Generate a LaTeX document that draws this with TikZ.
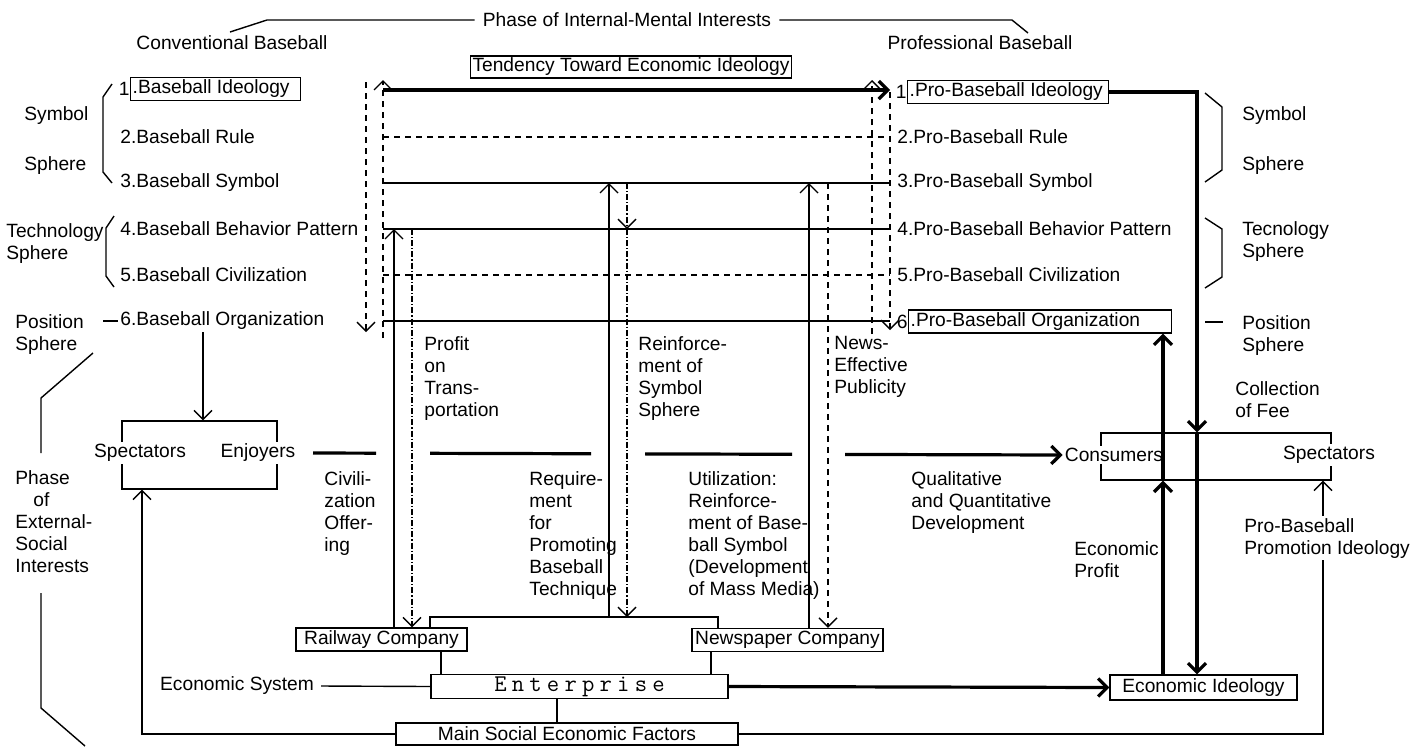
\documentclass[tikz,border=0pt]{standalone}
\usepackage{fontspec}
\setmainfont{Liberation Sans}
\usetikzlibrary{arrows.meta, calc}
\makeatletter
\newcommand\spreadword[1]{\@tfor\sw@ch:=#1\do{\sw@ch\kern2.6pt}\unkern}
\makeatother
\tikzset{
  lbl/.style={font=\fontsize{9.6}{11}\selectfont, inner sep=1pt},
  tlbl/.style={lbl, anchor=north west, align=left},
  fbox/.style={rectangle, draw, line width=0.7pt, inner sep=1pt,
               font=\fontsize{9.6}{11}\selectfont},
  itembox/.style={fbox, anchor=west, minimum height=11.5pt},
  gbox/.style={rectangle, draw, line width=0.7pt, inner sep=0pt},
  entfont/.style={font=\ttfamily\fontsize{12}{12}\selectfont},
  ln/.style={line width=0.7pt},
  thk/.style={line width=1.6pt},
  dsh/.style={line width=0.7pt, dash pattern=on 3pt off 2.5pt},
  ddot/.style={line width=0.7pt, dash pattern=on 3pt off 1pt on 0.6pt off 1pt},
  arr/.style={-{Straight Barb[length=4.5pt, width=9pt]}},
}

\begin{document}
\begin{tikzpicture}[x=0.5pt, y=-0.5pt]
  \useasboundingbox (0,0) rectangle (1414,746);

  % headings
  \node[lbl, inner xsep=4pt] (phin) at (627,20) {Phase of Internal-Mental Interests};
  \draw[ln] (phin.west) -- (267,20) -- (230,32);
  \draw[ln] (phin.east) -- (1012,20) -- (1028,33);
  \node[lbl] (conv) at (232,43) {Conventional Baseball};
  \node[lbl] (prof) at (980,43) {Professional Baseball};
  \node[fbox, minimum height=10pt] (tend) at (631,67) {Tendency Toward Economic Ideology};

  % conventional baseball
  \node[itembox] (c1) at (130,89) {\makebox[83pt][l]{.Baseball Ideology}};
  \node[lbl, anchor=east, inner sep=0pt] (c1n) at (c1.west) {1};
  \node[lbl, anchor=west] (c2) at (118,137) {2.Baseball Rule};
  \node[lbl, anchor=west] (c3) at (118,183) {3.Baseball Symbol};
  \node[lbl, anchor=west] (c4) at (118,229) {4.Baseball Behavior Pattern};
  \node[lbl, anchor=west] (c5) at (118,275) {5.Baseball Civilization};
  \node[lbl, anchor=west] (c6) at (118,321) {6.Baseball Organization};

  % professional baseball
  \node[itembox] (p1) at (907,92) {\makebox[98.5pt][l]{.Pro-Baseball Ideology}};
  \node[lbl, anchor=east, inner sep=0pt] (p1n) at (p1.west) {1};
  \node[lbl, anchor=west] (p2) at (895,137) {2.Pro-Baseball Rule};
  \node[lbl, anchor=west] (p3) at (895,183) {3.Pro-Baseball Symbol};
  \node[lbl, anchor=west] (p4) at (895,229) {4.Pro-Baseball Behavior Pattern};
  \node[lbl, anchor=west] (p5) at (895,275) {5.Pro-Baseball Civilization};
  \node[itembox] (p6) at (908,321.5) {\makebox[129.5pt][l]{.Pro-Baseball Organization}};
  \node[lbl, anchor=east, inner sep=0pt] (p6n) at (p6.west) {6};

  % spheres
  \node[tlbl] (symL) at (22,104) {Symbol\\[14pt]Sphere};
  \node[tlbl] (tecL) at (4,221) {Technology\\Sphere};
  \node[tlbl] (posL) at (13,312) {Position\\Sphere};
  \node[tlbl] (symR) at (1240,104) {Symbol\\[14pt]Sphere};
  \node[tlbl] (tecR) at (1240,219) {Tecnology\\Sphere};
  \node[tlbl] (posR) at (1240,313) {Position\\Sphere};
  \node[tlbl] (phex) at (13,468) {Phase\\\hspace*{9pt}of\\External-\\Social\\Interests};

  \draw[ln] (112,84) -- (103,97) -- (103,172) -- (112,183);
  \draw[ln] (114,216) -- (106,228) -- (106,276) -- (114,287);
  \draw[ln] (103,321) -- (c6.west);
  \draw[ln] (1205,93) -- (1222,107) -- (1222,170) -- (1205,182);
  \draw[ln] (1205,218) -- (1222,229) -- (1222,277) -- (1205,288);
  \draw[ln] (1205,322) -- (1223,322);
  \draw[ln] (93,353) -- (41,398) -- (41,453);
  \draw[ln] (41,593) -- (41,708) -- (85,746);

  % rows between the two sides
  \foreach \i/\y in {1/90,2/137,3/183,4/229,5/275,6/321}{
    \coordinate (l\i) at (383,\y);
    \coordinate (r\i) at (890,\y);
  }
  \draw[thk, arr] (l1) -- (r1);
  \draw[dsh] (l2) -- (r2);
  \draw[ln] (l3) -- (r3);
  \draw[ln] (l4) -- (r4);
  \draw[dsh] (l5) -- (r5);
  \draw[ln] (l6) -- (r6);

  \coordinate (dla) at (366,82);  \coordinate (dlb) at (366,332);
  \coordinate (dlc) at (383,338); \coordinate (dld) at (383,80);
  \coordinate (dra) at (872,334); \coordinate (drb) at (872,80);
  \coordinate (drc) at (890,92);  \coordinate (drd) at (890,330);
  \draw[dsh, arr] (dla) -- (dlb);
  \draw[dsh, arr] (dlc) -- (dld);
  \draw[dsh, arr] (dra) -- (drb);
  \draw[dsh, arr] (drc) -- (drd);

  % enterprise block
  \node[fbox, minimum width=85.5pt, minimum height=11.5pt] (rail) at (381.5,639.5) {Railway Company};
  \node[fbox, minimum width=95.5pt, minimum height=11.5pt] (news) at (787.5,640) {Newspaper Company};
  \node[fbox, entfont, minimum width=148.5pt, minimum height=11.5pt] (ent) at (579.5,686.5) {\spreadword{Enterprise}};
  \node[fbox, minimum width=93.5pt, minimum height=12.5pt] (econ) at (1203.5,687.5) {Economic Ideology};
  \node[fbox, minimum width=171pt, minimum height=11pt] (mainf) at (567,734) {Main Social Economic Factors};
  \node[lbl] (esys) at (237,686) {Economic System};

  \coordinate (xre) at (441,0);
  \coordinate (xne) at (711,0);
  \coordinate (xme) at (557,0);
  \draw[ln] (rail.south -| xre) -- (ent.north -| xre);
  \draw[ln] (news.south -| xne) -- (ent.north -| xne);
  \draw[ln] (ent.south -| xme) -- (mainf.north -| xme);
  \draw[ln] (esys.east) ++(5,0) -- (ent.west);
  \draw[thk, arr] (ent.east) -- (econ.west);

  % vertical links to the rows
  \coordinate (xr1) at (394,0); \coordinate (xr2) at (412,0);
  \coordinate (xm1) at (609,0); \coordinate (xm2) at (627,0);
  \coordinate (xn1) at (809,0); \coordinate (xn2) at (828,0);
  \coordinate (xbl) at (430,0); \coordinate (xbr) at (718,0);
  \coordinate (bk) at (0,617);
  \draw[ln, arr] (rail.north -| xr1) -- (l4 -| xr1);
  \draw[ddot, arr] (l4 -| xr2) -- (rail.north -| xr2);
  \draw[ln] (rail.north -| xbl) |- (bk -| xbr) -- (news.north -| xbr);
  \draw[ln, arr] (bk -| xm1) -- (l3 -| xm1);
  \draw[ddot, arr] (l3 -| xm2) -- (l4 -| xm2);
  \draw[ddot, arr] (l4 -| xm2) -- (bk -| xm2);
  \draw[ln, arr] (news.north -| xn1) -- (l3 -| xn1);
  \draw[dsh, arr] (l3 -| xn2) -- (news.north -| xn2);

  % spectators / consumers
  \node[gbox, minimum width=77.5pt, minimum height=34pt] (specL) at (199.5,455) {};
  \node[lbl, fill=white] (spL) at (140,453) {Spectators};
  \node[lbl, fill=white] (enjL) at (258,453) {Enjoyers};
  \node[gbox, minimum width=115pt, minimum height=23.5pt] (specR) at (1216,456.5) {};
  \node[lbl, fill=white] (cons) at (1114,455) {Consumers};
  \node[lbl, fill=white] (spR) at (1329,455) {Spectators};

  \coordinate (xsd) at (203,0);
  \coordinate (qs) at (313,453);
  \draw[ln, arr] (c6.south -| xsd) -- (specL.north -| xsd);
  \draw[thk, arr, dash pattern=on 31.5pt off 27pt on 80.5pt off 27pt on 73.5pt off 26.5pt on 300pt off 10pt]
    (qs) -- (cons.west);

  \coordinate (xsl) at (142,0); \coordinate (xsr) at (1323,0);
  \draw[ln, arr] (mainf.west) -| (specL.south -| xsl);
  \draw[ln, arr] (mainf.east) -| (specR.south -| xsr);

  \coordinate (xti) at (1197,0); \coordinate (xep) at (1163,0);
  \draw[thk, arr] (p1.east) -| (specR.north -| xti);
  \draw[thk, arr] (specR.north -| xti) -- (econ.north -| xti);
  \draw[thk, arr] (econ.north -| xep) -- (specR.south -| xep);
  \draw[thk, arr] (specR.south -| xep) -- (p6.south -| xep);

  % flow labels
  \node[tlbl] (civ) at (322,469) {Civili-\\zation\\Offer-\\ing};
  \node[tlbl] (ptr) at (422,334) {Profit\\on\\Trans-\\portation};
  \node[tlbl] (rsy) at (636,334) {Reinforce-\\ment of\\Symbol\\Sphere};
  \node[tlbl] (nep) at (832,334) {News-\\Effective\\Publicity};
  \node[tlbl] (req) at (527,469) {Require-\\ment\\for\\Promoting\\Baseball\\Technique};
  \node[tlbl] (utl) at (686,469) {Utilization:\\Reinforce-\\ment of Base-\\ball Symbol\\(Development\\of Mass Media)};
  \node[tlbl] (qqd) at (909,469) {Qualitative\\and Quantitative\\Development};
  \node[tlbl] (epf) at (1072,539) {Economic\\Profit};
  \node[tlbl, fill=white] (pbp) at (1242,516) {Pro-Baseball\\Promotion Ideology};
  \node[tlbl] (cof) at (1233,379) {Collection\\of Fee};
\end{tikzpicture}
\end{document}
